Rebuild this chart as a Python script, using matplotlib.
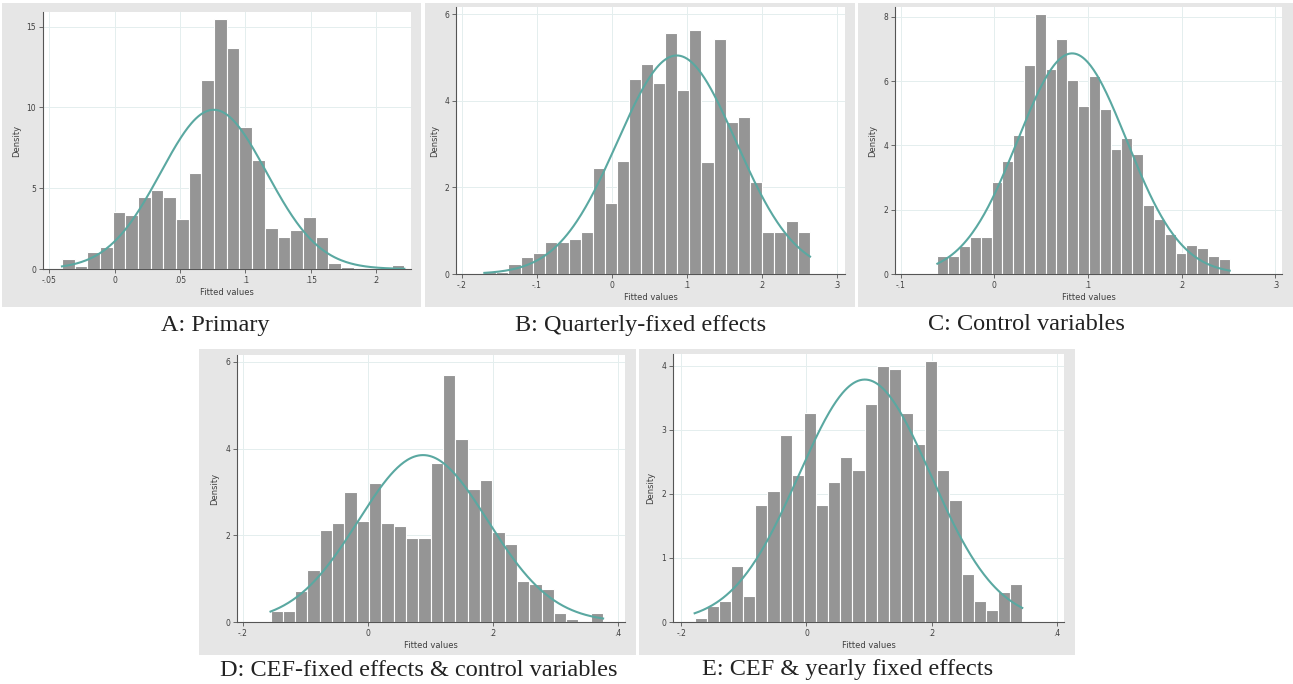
import numpy as np
import matplotlib.pyplot as plt
from matplotlib.patches import Rectangle

# histogram heights (density), 27 bins each
primary = [0.62, 0.16, 1.05, 1.34, 3.5, 3.31, 4.44, 4.86, 4.44, 3.09, 5.95, 11.67, 15.45, 13.7,
           8.79, 6.77, 2.55, 1.98, 2.43, 3.21, 1.98, 0.35, 0.12, 0, 0, 0, 0.23]
quarterly = [0.05, 0.05, 0.23, 0.4, 0.48, 0.73, 0.73, 0.81, 0.98, 2.45, 1.63, 2.62, 4.5, 4.85,
             4.42, 5.58, 4.26, 5.65, 2.59, 5.42, 3.52, 3.62, 2.13, 0.98, 0.98, 1.22, 0.98]
control = [0.56, 0.56, 0.88, 1.14, 1.14, 2.85, 3.53, 4.33, 6.5, 8.1, 6.37, 7.3, 6.03, 5.24,
           6.16, 5.12, 3.88, 4.23, 3.75, 2.16, 1.71, 1.24, 0.66, 0.9, 0.8, 0.56, 0.46]
cef_control = [0.25, 0.25, 0.72, 1.2, 2.13, 2.28, 3.0, 2.34, 3.2, 2.28, 2.22, 1.94, 1.94, 3.67,
               5.69, 4.22, 3.08, 3.28, 2.07, 1.81, 0.94, 0.88, 0.75, 0.21, 0.06, 0, 0.2]
cef_yearly = [0.06, 0.25, 0.33, 0.88, 0.4, 1.82, 2.04, 2.92, 2.3, 3.26, 1.82, 2.18, 2.57, 2.37,
              3.4, 4.0, 3.94, 3.26, 2.78, 4.07, 2.37, 1.9, 0.75, 0.33, 0.19, 0.47, 0.6]

# data range (min, max of fitted values) per panel
ranges = [(-0.0403, 0.2217), (-0.1698, 0.2644), (-0.0607, 0.2512), (-0.156, 0.376), (-0.1787, 0.345)]
# fitted normal: mean, sd
normals = [(0.0758, 0.0405), (0.0867, 0.079), (0.0831, 0.0581), (0.088, 0.1036), (0.0933, 0.1055)]

xticks = [[-0.05, 0, 0.05, 0.1, 0.15, 0.2], [-0.2, -0.1, 0, 0.1, 0.2, 0.3],
          [-0.1, 0, 0.1, 0.2, 0.3], [-0.2, 0, 0.2, 0.4], [-0.2, 0, 0.2, 0.4]]
xlabels = [['-.05', '0', '.05', '.1', '.15', '.2'], ['-.2', '-.1', '0', '.1', '.2', '.3'],
           ['-.1', '0', '.1', '.2', '.3'], ['-.2', '0', '.2', '.4'], ['-.2', '0', '.2', '.4']]
yticks = [[0, 5, 10, 15], [0, 2, 4, 6], [0, 2, 4, 6, 8], [0, 2, 4, 6], [0, 1, 2, 3, 4]]
xlims = [(-0.0548, 0.2268), (-0.2076, 0.311), (-0.1059, 0.307), (-0.2096, 0.411), (-0.2133, 0.4117)]
ylims = [15.9, 6.17, 8.31, 6.16, 4.18]

captions = ['A: Primary', 'B: Quarterly-fixed effects', 'C: Control variables',
            'D: CEF-fixed effects & control variables', 'E: CEF & yearly fixed effects']
series = [primary, quarterly, control, cef_control, cef_yearly]

W, H = 1293, 684
fig = plt.figure(figsize=(W / 100, H / 100), dpi=100)
fig.patch.set_facecolor('white')

# pixel layout: gray panel box, axes box, caption centre
boxes = [(2, 3, 421, 307), (425, 3, 855, 307), (858, 3, 1293, 307),
         (199, 349, 636, 655), (639, 349, 1075, 655)]
axboxes = [(43, 12, 411, 269), (456, 7, 845, 274), (895, 7, 1282, 274),
           (237, 355, 625, 622), (673, 354, 1064, 622)]
capxy = [(215, 325), (641, 325), (1026, 325), (419, 670), (848, 670)]

bar_col = '#959595'
curve_col = '#5aa8a1'
text_col = '#404040'

for i in range(5):
    x0, y0, x1, y1 = boxes[i]
    fig.patches.append(Rectangle((x0 / W, 1 - y1 / H), (x1 - x0) / W, (y1 - y0) / H,
                                 transform=fig.transFigure, facecolor='#e6e6e6',
                                 edgecolor='none', zorder=-5))
    l, t, r, b = axboxes[i]
    ax = fig.add_axes([l / W, 1 - b / H, (r - l) / W, (b - t) / H], zorder=2)
    ax.set_facecolor('white')

    h = np.array(series[i])
    lo, hi = ranges[i]
    edges = np.linspace(lo, hi, len(h) + 1)
    ax.bar(edges[:-1], h, width=np.diff(edges), align='edge', color=bar_col,
           edgecolor='white', linewidth=0.8, zorder=2)

    mu, sd = normals[i]
    xs = np.linspace(lo, hi, 300)
    ax.plot(xs, np.exp(-0.5 * ((xs - mu) / sd) ** 2) / (sd * np.sqrt(2 * np.pi)),
            color=curve_col, lw=1.5, zorder=3)

    ax.set_xlim(*xlims[i])
    ax.set_ylim(0, ylims[i])
    ax.set_xticks(xticks[i])
    ax.set_xticklabels(xlabels[i])
    ax.set_yticks(yticks[i])
    ax.grid(True, color='#e4eeee', lw=0.7, zorder=0)
    ax.set_axisbelow(True)
    for s in ['top', 'right']:
        ax.spines[s].set_visible(False)
    for s in ['left', 'bottom']:
        ax.spines[s].set_color('#555555')
        ax.spines[s].set_linewidth(0.8)
    ax.tick_params(length=3, width=0.6, color='#555555', labelsize=5.5, labelcolor=text_col, pad=2)
    ax.set_xlabel('Fitted values', fontsize=6, color=text_col, labelpad=2)
    ax.set_ylabel('Density', fontsize=6, color=text_col, labelpad=4)

    cx, cy = capxy[i]
    fig.text(cx / W, 1 - cy / H, captions[i], ha='center', va='center',
             fontsize=17.5, family='Liberation Serif', color='#222222')

fig.savefig('out.png', dpi=100, facecolor='white')
